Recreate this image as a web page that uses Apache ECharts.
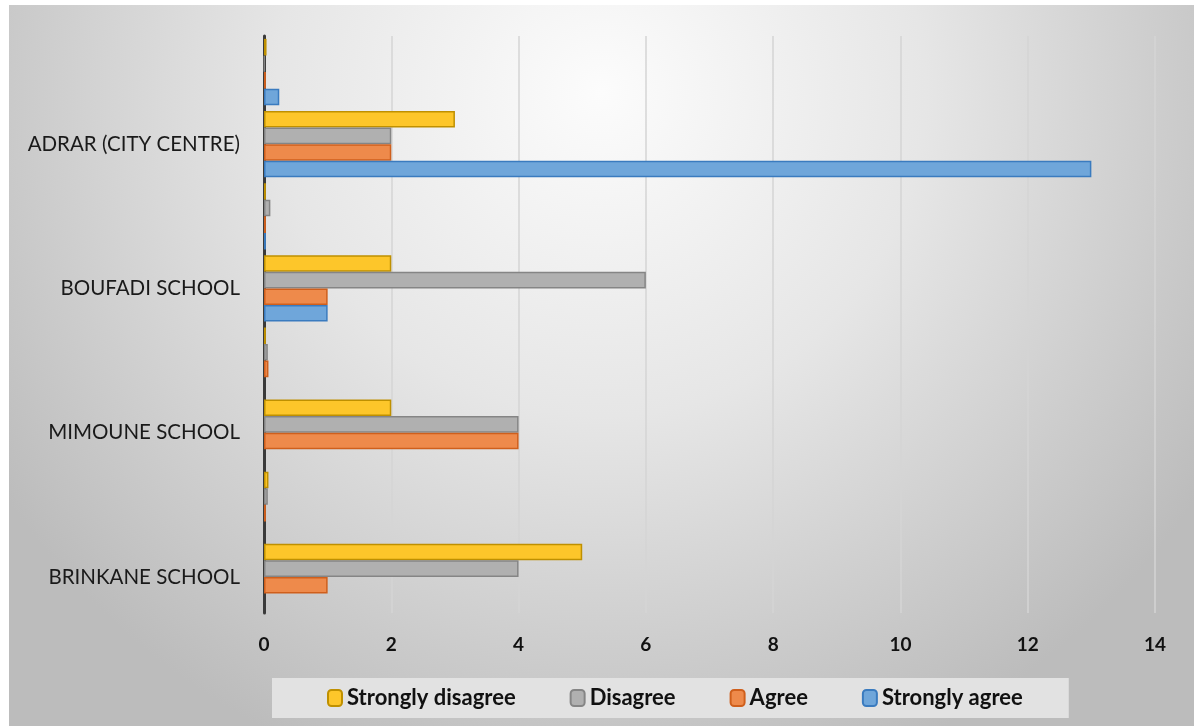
<!DOCTYPE html>
<html>
<head>
<meta charset="utf-8">
<script src="https://cdn.jsdelivr.net/npm/echarts@6/dist/echarts.min.js"></script>
<style>
  html, body { margin: 0; padding: 0; background: #ffffff; }
  #chart { position: absolute; left: 9px; top: 5px; width: 1185px; height: 721px; }
</style>
</head>
<body>
<div id="chart"></div>
<script>
// Categories listed bottom to top; the unlabeled rows sit above each school.
const categories = ['BRINKANE SCHOOL', '', 'MIMOUNE SCHOOL', '', 'BOUFADI SCHOOL', '', 'ADRAR (CITY CENTRE)', ''];
const seriesNames = ['Strongly disagree', 'Disagree', 'Agree', 'Strongly agree'];
const stronglyDisagree = [5, 0.07, 2, 0.03, 2, 0.03, 3, 0.04];
const disagree         = [4, 0.06, 4, 0.06, 6, 0.1, 2, 0.01];
const agree            = [1, 0.03, 4, 0.07, 1, 0.03, 2, 0.03];
const stronglyAgree    = [0, 0, 0, 0, 1, 0.03, 13, 0.24];
const xTicks = [0, 2, 4, 6, 8, 10, 12, 14];

const fills   = ['#fdc62a', '#b0b0b0', '#ee8a4b', '#6fa6da'];
const borders = ['#bf9000', '#858585', '#cf5f1c', '#3a7bbf'];
const values  = [stronglyDisagree, disagree, agree, stronglyAgree];

const chart = echarts.init(document.getElementById('chart'));

// Zero counts leave an empty slot instead of a bare outline.
const series = seriesNames.map((name, i) => ({
  name,
  type: 'bar',
  data: values[i].map(v => (v === 0 ? null : v)),
  barGap: '0%',
  barCategoryGap: '8%',
  itemStyle: { color: fills[i], borderColor: borders[i], borderWidth: 1.5 }
}));

chart.setOption({
  backgroundColor: {
    type: 'radial', x: 0.5, y: 0.12, r: 1.0,
    colorStops: [
      { offset: 0, color: '#fcfcfc' },
      { offset: 0.45, color: '#e6e6e6' },
      { offset: 1, color: '#bcbcbc' }
    ]
  },
  animation: false,
  textStyle: { fontFamily: 'Lato' },
  legend: {
    data: seriesNames,
    bottom: 8,
    left: 263,
    itemGap: 54,
    itemWidth: 14,
    itemHeight: 16,
    padding: [9, 46, 9, 55],
    backgroundColor: '#e2e2e2',
    textStyle: { fontFamily: 'Lato', fontWeight: 'bold', fontSize: 22, color: '#111111' }
  },
  grid: { left: 255, right: 39, top: 31, bottom: 113, containLabel: false },
  xAxis: {
    type: 'value',
    min: 0, max: 14, interval: 2,
    axisLine: { show: false },
    axisTick: { show: false },
    splitLine: { show: true, lineStyle: { color: '#d4d4d4', width: 1.5 } },
    axisLabel: {
      margin: 22,
      fontFamily: 'Lato', fontWeight: 'bold', fontSize: 19, color: '#111111',
      formatter: v => xTicks.includes(v) ? String(v) : ''
    }
  },
  yAxis: {
    type: 'category',
    data: categories,
    axisLine: { show: true, lineStyle: { color: '#3a3a3a', width: 3 } },
    axisTick: { show: false },
    axisLabel: { margin: 24, interval: 0, fontFamily: 'Lato', fontSize: 20.5, color: '#1a1a1a' }
  },
  series
});
</script>
</body>
</html>
